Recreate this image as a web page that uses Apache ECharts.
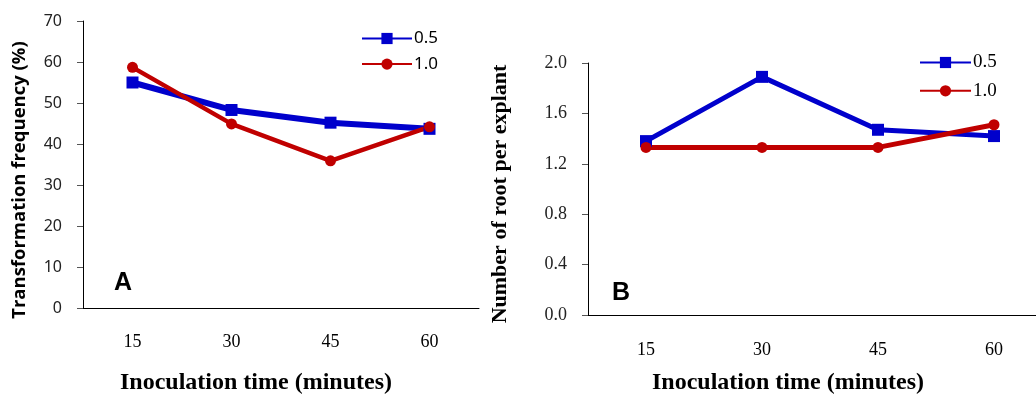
<!DOCTYPE html>
<html>
<head>
<meta charset="utf-8">
<script src="https://cdn.jsdelivr.net/npm/echarts@6/dist/echarts.min.js"></script>
<style>
  html, body { margin: 0; padding: 0; background: #fff; overflow: hidden; }
  /* the original figure is cut off at the right edge, so the canvas is a bit wider than the window */
  #main { width: 1060px; height: 394px; }
</style>
</head>
<body>
<div id="main"></div>
<script>
var times = ['15', '30', '45', '60'];

// panel A: transformation frequency (%)
var freq_05 = [55, 48.3, 45.2, 43.7];
var freq_10 = [58.7, 44.9, 35.9, 44.2];

// panel B: number of root per explant
var root_05 = [1.38, 1.89, 1.47, 1.42];
var root_10 = [1.33, 1.33, 1.33, 1.51];

var blue = '#0000CC';
var red = '#C00000';

var myChart = echarts.init(document.getElementById('main'));

var sansFont = '"Noto Sans", sans-serif';
var serifFont = '"Liberation Serif", serif';

option = {
    animation: false,
    grid: [
        { left: 83, top: 21, width: 396, height: 287 },
        { left: 588, top: 63, width: 464, height: 252 }
    ],
    legend: [{
        data: ['0.5', '1.0'],
        orient: 'vertical',
        left: 361,
        top: 30,
        padding: 0,
        itemWidth: 50,
        itemHeight: 14,
        itemGap: 8.6,
        lineStyle: { width: 2 },
        textStyle: { fontFamily: sansFont, fontSize: 17, color: '#000', padding: [0, 0, 0, -3] }
    }, {
        data: ['0.5', '1.0'],
        orient: 'vertical',
        left: 919,
        top: 53,
        padding: 0,
        itemWidth: 51,
        itemHeight: 14,
        itemGap: 9.3,
        lineStyle: { width: 2 },
        textStyle: { fontFamily: serifFont, fontSize: 19, color: '#000', padding: [0, 0, 0, -3] }
    }],
    xAxis: [{
        type: 'category',
        gridIndex: 0,
        data: times,
        axisLine: { lineStyle: { color: '#000', width: 1 } },
        axisTick: { length: 6, lineStyle: { color: '#555' } },
        axisLabel: { fontFamily: serifFont, fontSize: 18, color: '#000', margin: 25 }
    }, {
        type: 'category',
        gridIndex: 1,
        data: times,
        axisLine: { lineStyle: { color: '#000', width: 1 } },
        axisTick: { length: 6, lineStyle: { color: '#555' } },
        axisLabel: { fontFamily: serifFont, fontSize: 18, color: '#000', margin: 26 }
    }],
    yAxis: [{
        type: 'value',
        gridIndex: 0,
        min: 0,
        max: 70,
        interval: 10,
        splitLine: { show: false },
        axisLine: { show: true, lineStyle: { color: '#000', width: 1 } },
        axisTick: { show: true, length: 6, lineStyle: { color: '#555' } },
        axisLabel: { fontFamily: sansFont, fontSize: 16, color: '#222', margin: 21 }
    }, {
        type: 'value',
        gridIndex: 1,
        min: 0,
        max: 2,
        interval: 0.4,
        splitLine: { show: false },
        axisLine: { show: true, lineStyle: { color: '#000', width: 1 } },
        axisTick: { show: true, length: 6, lineStyle: { color: '#555' } },
        axisLabel: {
            fontFamily: serifFont, fontSize: 18, color: '#222', margin: 21,
            formatter: function (v) { return v.toFixed(1); }
        }
    }],
    series: [{
        name: '0.5',
        type: 'line',
        xAxisIndex: 0,
        yAxisIndex: 0,
        data: freq_05,
        symbol: 'rect',
        symbolSize: 12,
        color: blue,
        lineStyle: { width: 6, color: blue },
        itemStyle: { color: blue }
    }, {
        name: '1.0',
        type: 'line',
        xAxisIndex: 0,
        yAxisIndex: 0,
        data: freq_10,
        symbol: 'circle',
        symbolSize: 11,
        color: red,
        lineStyle: { width: 4.5, color: red },
        itemStyle: { color: red }
    }, {
        name: '0.5',
        type: 'line',
        xAxisIndex: 1,
        yAxisIndex: 1,
        data: root_05,
        symbol: 'rect',
        symbolSize: 12,
        color: blue,
        lineStyle: { width: 5, color: blue },
        itemStyle: { color: blue }
    }, {
        name: '1.0',
        type: 'line',
        xAxisIndex: 1,
        yAxisIndex: 1,
        data: root_10,
        symbol: 'circle',
        symbolSize: 11,
        color: red,
        lineStyle: { width: 5, color: red },
        itemStyle: { color: red }
    }],
    graphic: [{
        type: 'text',
        x: 20, y: 180,
        rotation: Math.PI / 2,
        style: {
            text: 'Transformation frequency (%)',
            font: 'bold 18.5px "Open Sans", sans-serif',
            fill: '#000',
            align: 'center',
            verticalAlign: 'middle'
        }
    }, {
        type: 'text',
        x: 500, y: 194,
        rotation: Math.PI / 2,
        style: {
            text: 'Number of root per explant',
            font: 'bold 22px "Liberation Serif", serif',
            fill: '#000',
            align: 'center',
            verticalAlign: 'middle'
        }
    }, {
        type: 'text',
        x: 256, y: 383,
        style: {
            text: 'Inoculation time (minutes)',
            font: 'bold 24px "Liberation Serif", serif',
            fill: '#000',
            align: 'center',
            verticalAlign: 'middle'
        }
    }, {
        type: 'text',
        x: 788, y: 383,
        style: {
            text: 'Inoculation time (minutes)',
            font: 'bold 24px "Liberation Serif", serif',
            fill: '#000',
            align: 'center',
            verticalAlign: 'middle'
        }
    }, {
        type: 'text',
        x: 123, y: 283,
        style: {
            text: 'A',
            font: 'bold 25px "Liberation Sans", sans-serif',
            fill: '#000',
            align: 'center',
            verticalAlign: 'middle'
        }
    }, {
        type: 'text',
        x: 621, y: 293,
        style: {
            text: 'B',
            font: 'bold 25px "Liberation Sans", sans-serif',
            fill: '#000',
            align: 'center',
            verticalAlign: 'middle'
        }
    }]
};

myChart.setOption(option);
</script>
</body>
</html>
